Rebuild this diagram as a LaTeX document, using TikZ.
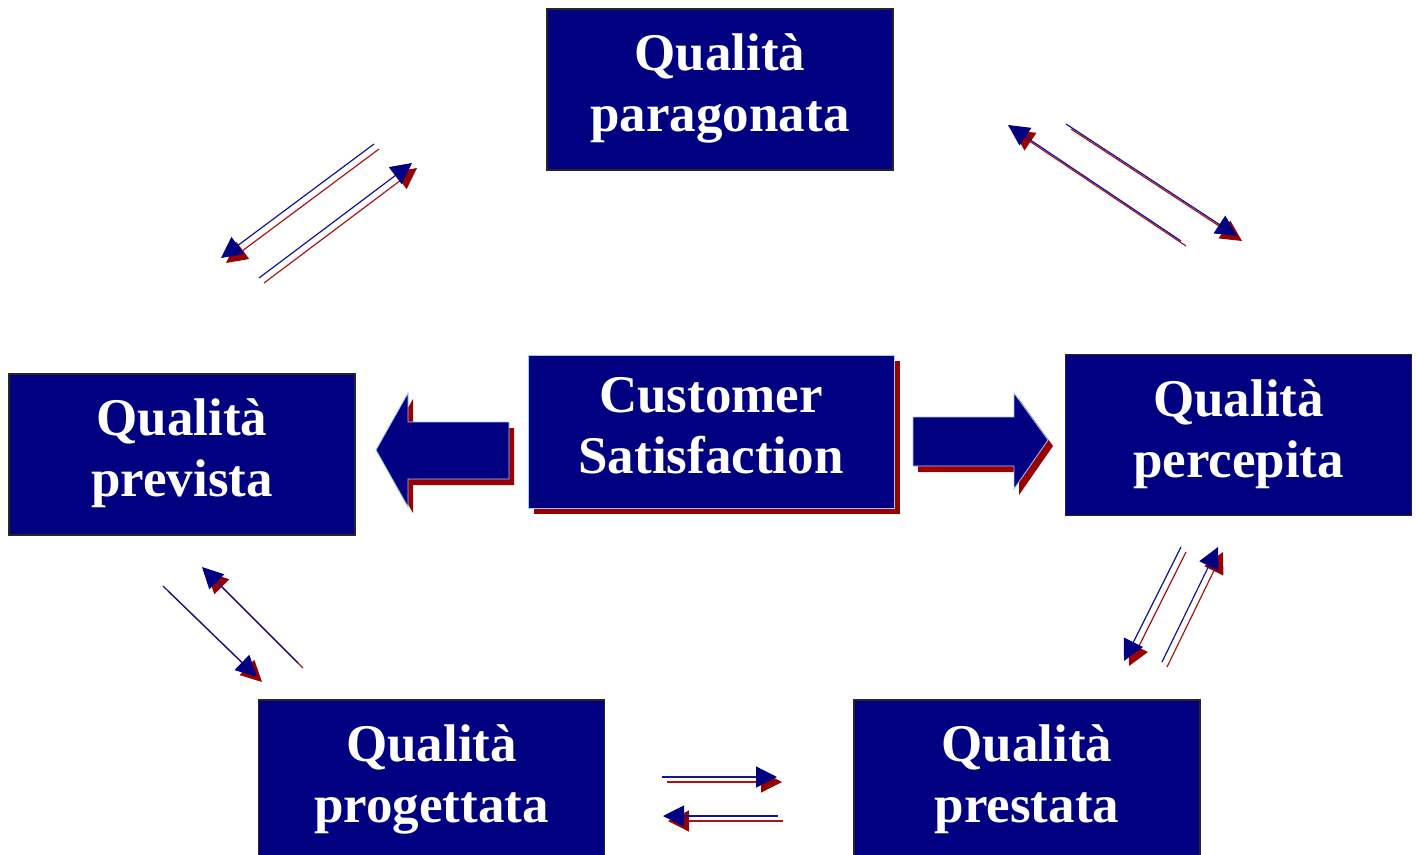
\documentclass[tikz,border=0pt]{standalone}
\usepackage{fontspec}
\setmainfont{Liberation Serif}
\usetikzlibrary{arrows.meta,shadows}

\definecolor{boxnavy}{RGB}{0,0,128}
\definecolor{shadowred}{RGB}{153,0,0}
\definecolor{rimblue}{RGB}{153,204,255}
\definecolor{lineblue}{RGB}{20,20,150}
\definecolor{linered}{RGB}{175,20,20}

% thin arrow with a dark red copy set down and to the right
\newcommand\dualarrow[2]{%
  \draw[redarrow, transform canvas={xshift=5pt,yshift=-5pt}] (#1) -- (#2);
  \draw[bluearrow] (#1) -- (#2);}

\begin{document}
\begin{tikzpicture}[x=1pt,y=-1pt,
  qbox/.style={draw=black!85, line width=1.2pt, fill=boxnavy, text=white,
    minimum width=346pt, minimum height=161pt, inner sep=0pt, align=center,
    font=\fontsize{53}{61}\selectfont\bfseries,
    execute at begin node=\rule{0pt}{36pt},
    execute at end node=\rule[-13pt]{0pt}{13pt}},
  bluearrow/.style={draw=lineblue, line width=1.2pt,
    -{Triangle[length=21pt,width=21pt,color=boxnavy]}},
  redarrow/.style={draw=linered, line width=1.2pt,
    -{Triangle[length=21pt,width=21pt,color=shadowred]}},
  blockarrow/.style={fill=boxnavy, draw=rimblue, line width=0.8pt},
  blockshadow/.style={fill=shadowred}]

\useasboundingbox (0,0) rectangle (1416,854);

% the five quality boxes
\node[qbox] (parag) at (720,89.5)    {Qualità\\paragonata};
\node[qbox] (prev)  at (182,454.5)   {Qualità\\prevista};
\node[qbox] (perc)  at (1238.5,435)  {Qualità\\percepita};
\node[qbox] (prog)  at (431.5,780.5) {Qualità\\progettata};
\node[qbox] (prest) at (1027,780.5)  {Qualità\\prestata};

% central box with its drop shadow
\node[qbox, draw=rimblue, line width=0.8pt, minimum width=366pt, minimum height=153pt,
  execute at begin node=\rule{0pt}{42pt},
  drop shadow={shadow xshift=6pt, shadow yshift=-6pt, fill=shadowred, opacity=1}]
  (cs) at (711,431.5) {Customer\\Satisfaction};

% block arrow to the left
\begin{scope}[shift={(5,6)}]
  \fill[blockshadow] (376,450) -- (408,393) -- (408,422) -- (509,422) -- (509,479)
    -- (408,479) -- (408,507) -- cycle;
\end{scope}
\draw[blockarrow] (376,450) -- (408,393) -- (408,422) -- (509,422) -- (509,479)
  -- (408,479) -- (408,507) -- cycle;

% block arrow to the right
\begin{scope}[shift={(5,6)}]
  \fill[blockshadow] (1048,440) -- (1014,393) -- (1014,417) -- (913,417) -- (913,466)
    -- (1014,466) -- (1014,489) -- cycle;
\end{scope}
\draw[blockarrow] (1048,440) -- (1014,393) -- (1014,417) -- (913,417) -- (913,466)
  -- (1014,466) -- (1014,489) -- cycle;

% end points of the thin arrows
\coordinate (a1) at (374,144);  \coordinate (a2) at (221,258);
\coordinate (b1) at (259,278);  \coordinate (b2) at (412,163);
\coordinate (c1) at (1181,241); \coordinate (c2) at (1008,125);
\coordinate (d1) at (1066,124); \coordinate (d2) at (1237,236);
\coordinate (e1) at (163,586);  \coordinate (e2) at (257,677);
\coordinate (f1) at (298,663);  \coordinate (f2) at (202,567);
\coordinate (g1) at (1181,547); \coordinate (g2) at (1124,661);
\coordinate (h1) at (1162,662); \coordinate (h2) at (1218,547);
\coordinate (i1) at (662,777);  \coordinate (i2) at (777,777);
\coordinate (j1) at (778,816);  \coordinate (j2) at (663,816);

\dualarrow{a1}{a2}
\dualarrow{b1}{b2}
\dualarrow{c1}{c2}
\dualarrow{d1}{d2}
\dualarrow{e1}{e2}
\dualarrow{f1}{f2}
\dualarrow{g1}{g2}
\dualarrow{h1}{h2}
\dualarrow{i1}{i2}
\dualarrow{j1}{j2}

\end{tikzpicture}
\end{document}
